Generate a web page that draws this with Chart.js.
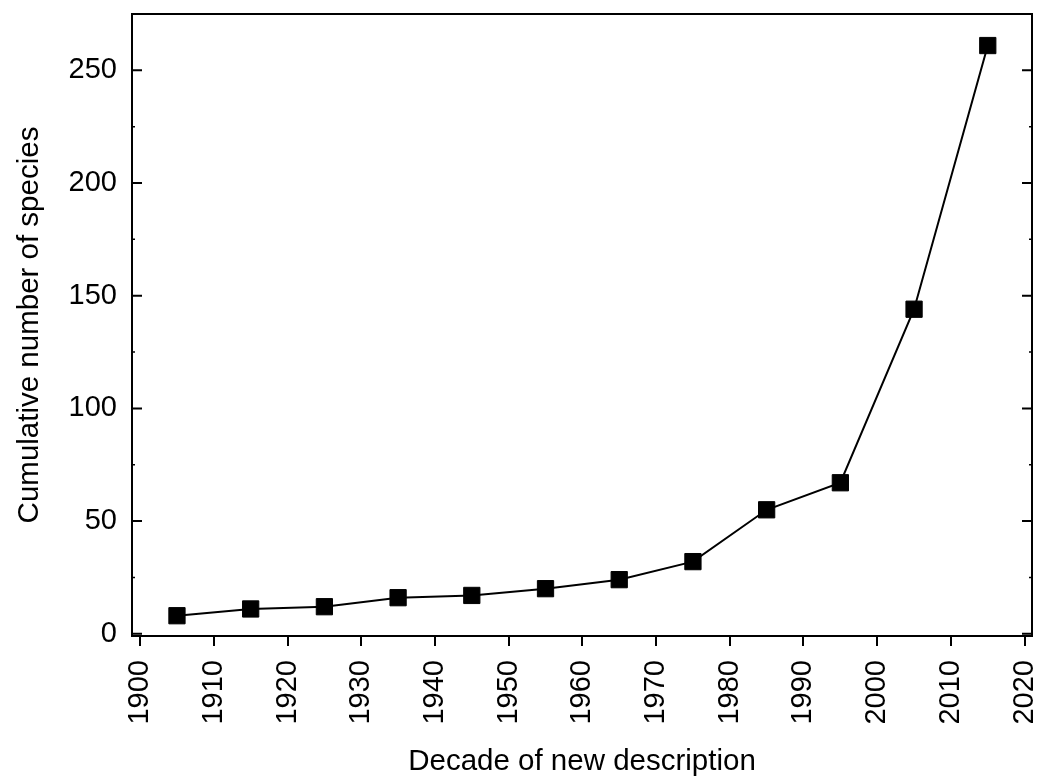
<!DOCTYPE html>
<html>
<head>
<meta charset="utf-8">
<script src="https://cdn.jsdelivr.net/npm/chart.js@4/dist/chart.umd.min.js"></script>
<style>
  body { margin: 0; background: #fff; }
  #wrap { width: 1038px; height: 782px; }
</style>
</head>
<body>
<div id="wrap"><canvas id="chart" width="1038" height="782"></canvas></div>
<script>
// decades (mid-points) and cumulative species counts
const decades = [1905, 1915, 1925, 1935, 1945, 1955, 1965, 1975, 1985, 1995, 2005, 2015];
const species = [8, 11, 12, 16, 17, 20, 24, 32, 55, 67, 144, 261];

const xTicks = [1900, 1910, 1920, 1930, 1940, 1950, 1960, 1970, 1980, 1990, 2000, 2010, 2020];
const yTicks = [0, 50, 100, 150, 200, 250];
const yMinorTicks = [25, 75, 125, 175, 225, 275];

const FONT = "'Liberation Sans', Arial, sans-serif";

// frame round the plot + inward ticks on the y axis (left and right)
const framePlugin = {
    id: 'frame',
    afterDatasetsDraw(chart) {
        const { ctx, chartArea: a, scales } = chart;
        const y = scales.y;
        ctx.save();
        ctx.strokeStyle = '#000';
        ctx.lineWidth = 2;
        ctx.strokeRect(a.left, a.top, a.right - a.left, a.bottom - a.top);
        ctx.beginPath();
        yTicks.forEach(v => {
            const py = y.getPixelForValue(v);
            ctx.moveTo(a.left, py); ctx.lineTo(a.left + 10, py);
            ctx.moveTo(a.right, py); ctx.lineTo(a.right - 10, py);
        });
        ctx.stroke();
        ctx.lineWidth = 1.5;
        ctx.beginPath();
        yMinorTicks.forEach(v => {
            const py = y.getPixelForValue(v);
            if (py < a.top + 1) return;
            ctx.moveTo(a.left, py); ctx.lineTo(a.left + 3, py);
            ctx.moveTo(a.right, py); ctx.lineTo(a.right - 3, py);
        });
        ctx.stroke();
        ctx.restore();
    }
};

const ctx = document.getElementById('chart').getContext('2d');
new Chart(ctx, {
    type: 'line',
    data: {
        datasets: [{
            data: decades.map((d, i) => ({ x: d, y: species[i] })),
            borderColor: '#000',
            borderWidth: 2,
            backgroundColor: '#000',
            pointStyle: 'rect',
            pointRadius: 11.5,
            pointBorderWidth: 1,
            pointHoverRadius: 11.5,
            tension: 0
        }]
    },
    options: {
        responsive: false,
        animation: false,
        layout: { autoPadding: false, padding: { top: 14, right: 6, left: 0, bottom: 0 } },
        plugins: {
            legend: { display: false },
            tooltip: { enabled: false }
        },
        scales: {
            x: {
                type: 'linear',
                min: 1898.9,
                max: 2021,
                afterBuildTicks: scale => { scale.ticks = xTicks.map(v => ({ value: v })); },
                afterFit: scale => {
                    scale.height = 146;
                    scale.paddingLeft = 0;
                    scale.paddingRight = 0;
                },
                border: { display: false },
                grid: {
                    display: true,
                    drawOnChartArea: false,
                    drawTicks: true,
                    tickLength: 10,
                    color: '#000',
                    lineWidth: 2
                },
                ticks: {
                    color: '#000',
                    font: { family: FONT, size: 29 },
                    maxRotation: 90,
                    minRotation: 90,
                    padding: 14,
                    autoSkip: false,
                    callback: v => String(v)
                },
                title: {
                    display: true,
                    text: 'Decade of new description',
                    color: '#000',
                    font: { family: FONT, size: 29.5 },
                    padding: { top: 0, bottom: 2 }
                }
            },
            y: {
                min: -1,
                max: 275,
                afterBuildTicks: scale => { scale.ticks = yTicks.map(v => ({ value: v })); },
                afterFit: scale => {
                    scale.width = 132;
                    scale.paddingTop = 0;
                    scale.paddingBottom = 0;
                },
                border: { display: false },
                grid: { display: false, drawTicks: false },
                ticks: {
                    color: '#000',
                    font: { family: FONT, size: 29 },
                    padding: 15
                },
                title: {
                    display: true,
                    text: 'Cumulative number of species',
                    color: '#000',
                    font: { family: FONT, size: 29.5 },
                    padding: { top: 12, bottom: 0 }
                }
            }
        }
    },
    plugins: [framePlugin]
});
</script>
</body>
</html>
